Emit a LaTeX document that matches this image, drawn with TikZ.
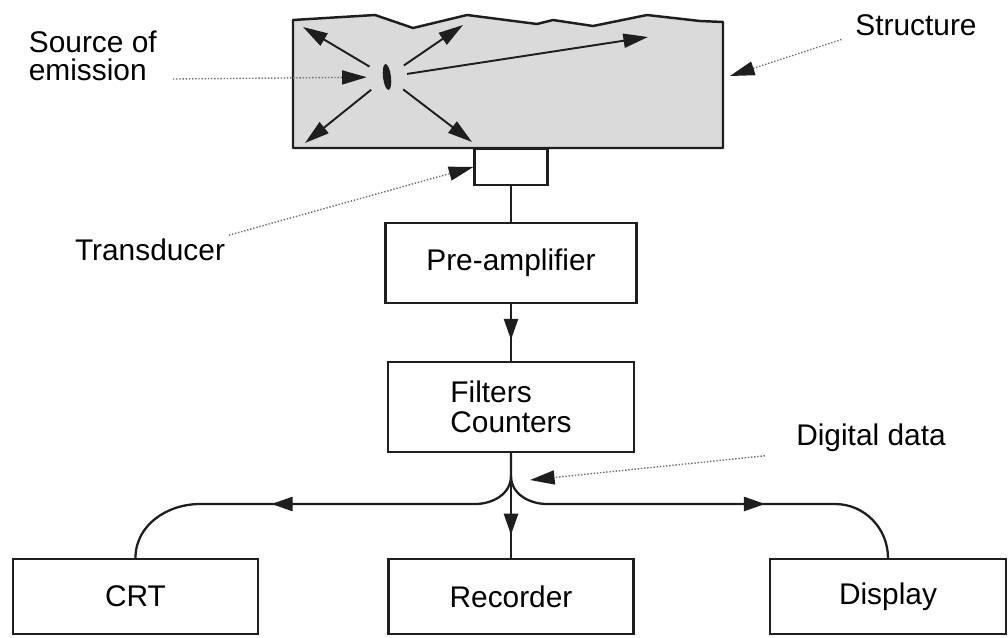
\documentclass[tikz,border=0pt]{standalone}
\usepackage{fontspec}
\setmainfont{Liberation Sans}
\usetikzlibrary{arrows.meta, positioning, decorations.markings, calc}
\definecolor{DG}{RGB}{30,30,30}
\definecolor{LGr}{RGB}{218,218,218}

\begin{document}
\begin{tikzpicture}[x=0.02cm, y=0.02cm,
  unit/.style={draw=DG, line width=1.3pt, fill=white, minimum width=4.9cm,
               minimum height=1.5cm, align=center, font=\fontsize{17}{17}\selectfont},
  lbl/.style={font=\fontsize{17}{16}\selectfont, inner sep=2pt, align=left},
  wire/.style={draw=DG, line width=1.3pt},
  ray/.style={draw=DG, line width=1.1pt, -{Triangle[length=14pt,width=8pt]}},
  pointer/.style={draw=DG!65, densely dotted, line width=0.8pt,
                  -{Triangle[length=14pt,width=8pt,color=DG]}},
  tipmark/.style={postaction={decorate}, decoration={markings,
                  mark=at position #1 with {\arrow{Triangle[length=12pt,width=8pt]}}}}
]
\useasboundingbox (0,0) rectangle (1008,637);

% Structure
\filldraw[draw=DG, fill=LGr, line width=1.4pt, line join=round]
  (293,489) -- (293,617) -- (375,622) -- (413,609) -- (467,622) -- (537,613)
  -- (553,617) -- (593,611) -- (647,622) -- (700,616) -- (723,615)
  -- (723,489) -- cycle;
\coordinate (strR) at (730,561);

% Source of emission
\node[circle, minimum size=0.8cm, inner sep=0] (src) at (387,560) {};
\fill[DG, rotate around={7:(src)}] (src) ellipse (4 and 13);
\coordinate (e1) at (303,610);
\coordinate (e2) at (305,494);
\coordinate (e3) at (463,612);
\coordinate (e4) at (648,600);
\coordinate (e5) at (472,495);
\foreach \e in {e1,e2,e3,e4,e5}
  \draw[ray] (src) -- (\e);

% Units
\node[unit, minimum width=1.46cm, minimum height=0.72cm] (transducer) at (511,470) {};
\node[unit, minimum width=5.02cm, minimum height=1.6cm] (preamp) at (511,374) {Pre-amplifier};
\node[unit, minimum width=4.92cm, minimum height=1.8cm, align=left] (filters) at (511,230)
  {Filters\\Counters};
\node[unit] (crt)      at (135.5,40.5) {CRT};
\node[unit] (recorder) at (511,40.5)   {Recorder};
\node[unit, minimum width=4.72cm] (display) at (888,40.5) {Display};

% Labels
\node[lbl, anchor=west] (soe) at (25,581) {Source of\\emission};
\node[lbl] (trl) at (150,387) {Transducer};
\node[lbl] (stl) at (916,612) {Structure};
\node[lbl] (ddl) at (871,199) {Digital data};
\coordinate (soetail) at (173,558);
\coordinate (ddtip) at (530,157);

% Pointers
\draw[pointer] (soetail) -- (src);
\draw[pointer] (trl.north east) -- (transducer.west);
\draw[pointer] ([xshift=-0.2cm]stl.south west) -- (strR);
\draw[pointer] ([xshift=-0.55cm]ddl.south west) -- (ddtip);

% Signal path
\coordinate (jn) at (511,161);
\coordinate (jl) at (475,133);
\coordinate (cl) at (200,133);
\coordinate (jr) at (547,133);
\coordinate (cr) at (835,133);
\draw[wire] (transducer.south) -- (preamp.north);
\draw[wire, tipmark=0.63] (preamp.south) -- (filters.north);
\draw[wire] (filters.south) -- (jn) to[out=-90,in=0] (jl) -- (cl)
  to[out=180,in=90] (crt.north);
\draw[wire] (jn) to[out=-90,in=180] (jr) -- (cr) to[out=0,in=90] (display.north);
\draw[wire, tipmark=0.74] (jl) -- (cl);
\draw[wire, tipmark=0.757] (jr) -- (cr);
\draw[wire, tipmark=0.78] (filters.south) -- (recorder.north);
\end{tikzpicture}
\end{document}
